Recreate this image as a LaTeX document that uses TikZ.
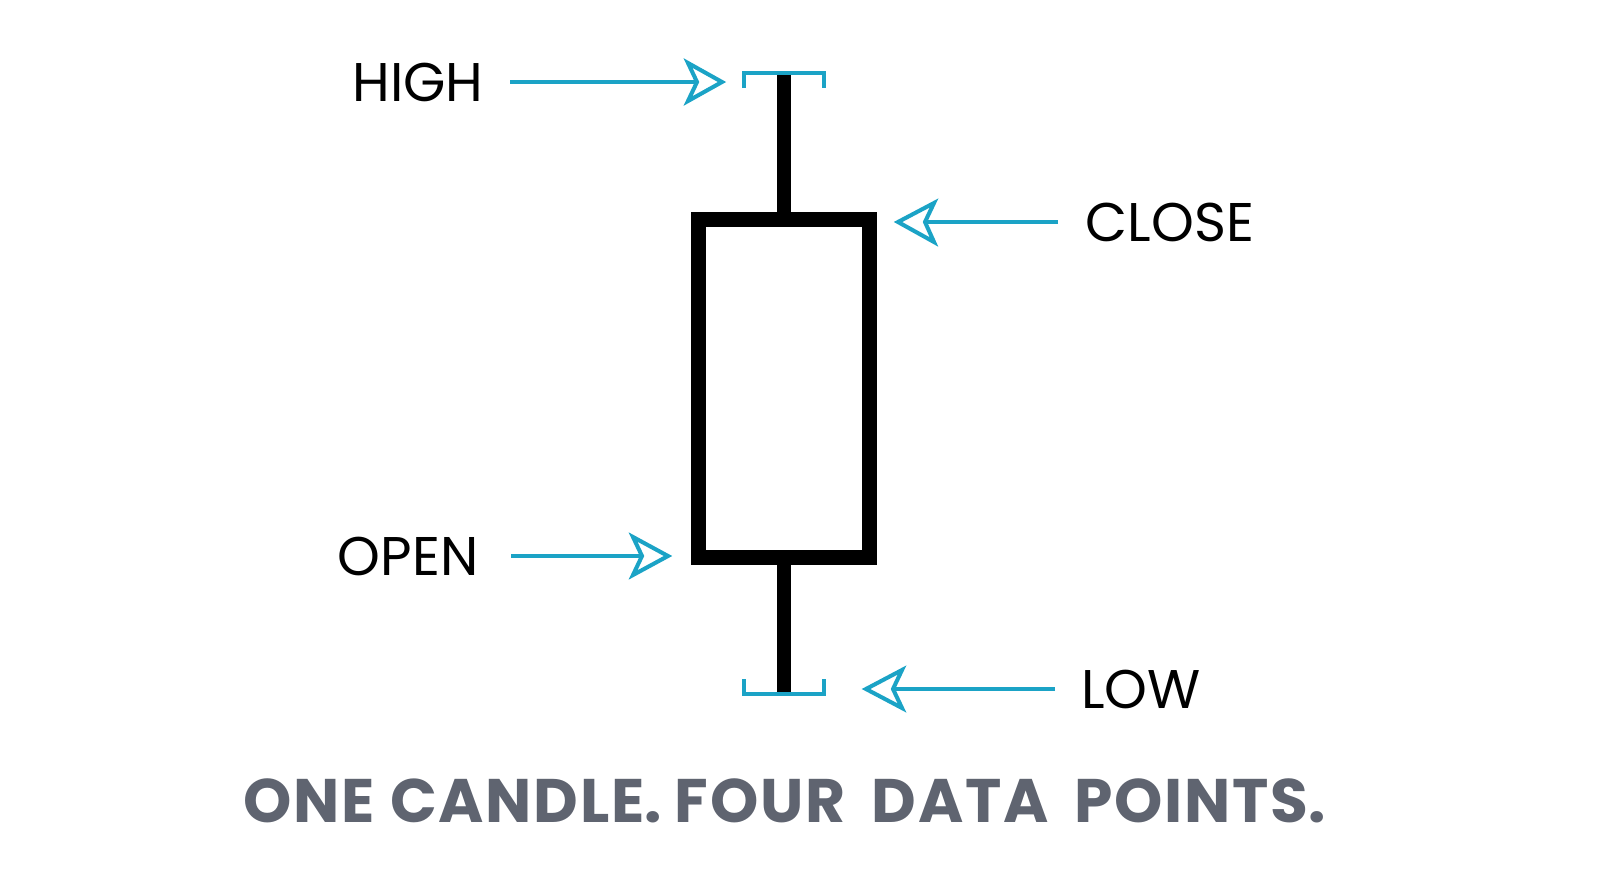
\documentclass[tikz,border=0pt]{standalone}
\usepackage{fontspec}
\setmainfont{Poppins}
\begin{document}
\begin{tikzpicture}[x=0.02cm,y=-0.02cm,
  cy/.style={draw=cyanc,line width=2.3pt},
  lbl/.style={font=\fontsize{31}{36}\selectfont,text=black,inner sep=0},
  head/.style={cy,fill=white,line join=miter}]
\definecolor{cyanc}{HTML}{1BA3C6}
\definecolor{grayt}{HTML}{5F6470}
\useasboundingbox (0,0) rectangle (1600,893);
% candle
\draw[line width=8.5pt] (698.5,219.5) rectangle (869.5,557.5);
\draw[line width=8pt] (784,75) -- (784,213);
\draw[line width=8pt] (784,564) -- (784,692);
\draw[cy] (744,88) -- (744,73) -- (824,73) -- (824,88);
\draw[cy] (744,679) -- (744,694) -- (824,694) -- (824,679);
% labels
\node[lbl] (high) at (418,82) {HIGH};
\node[lbl] (close) at (1170,222) {CLOSE};
\node[lbl] (open) at (408,556) {OPEN};
\node[lbl] (low) at (1141,689) {LOW};
\coordinate (ht) at (722,82);
\coordinate (ct) at (898,222);
\coordinate (ot) at (668,556);
\coordinate (lt) at (866,689);
% arrows
\draw[cy] (510,82) -- (697,82);
\draw[head] (ht) -- (688,63) -- (697,82) -- (688,101) -- cycle;
\draw[cy] (1058,222) -- (925,222);
\draw[head] (ct) -- (934,203) -- (925,222) -- (934,242) -- cycle;
\draw[cy] (511,556) -- (642,556);
\draw[head] (ot) -- (633,537) -- (642,556) -- (633,575) -- cycle;
\draw[cy] (1055,689) -- (893,689);
\draw[head] (lt) -- (902,670) -- (893,689) -- (902,708) -- cycle;
\node[font=\fontsize{35}{40}\selectfont\bfseries,text=grayt,inner sep=0] (title) at (785,801) {O\kern1pt N\kern1pt E\kern1pt\ C\kern1pt A\kern1pt N\kern1pt D\kern1pt L\kern1pt E.\ F\kern1pt O\kern1pt U\kern1pt R\ \ D\kern1pt A\kern1pt T\kern1pt A\ \ P\kern1pt O\kern1pt I\kern1pt N\kern1pt T\kern1pt S.};
\end{tikzpicture}
\end{document}
